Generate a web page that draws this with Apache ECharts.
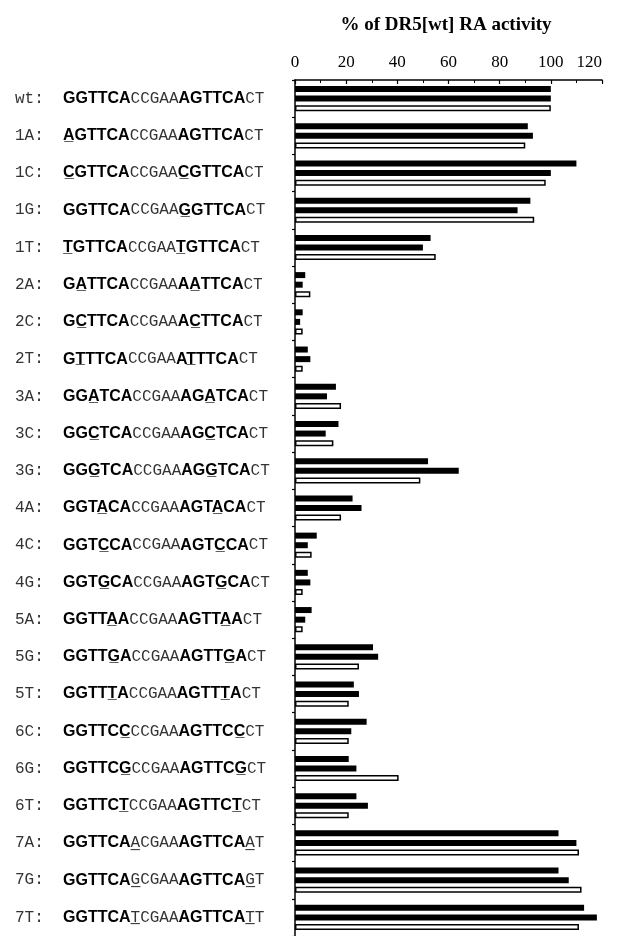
<!DOCTYPE html>
<html>
<head>
<meta charset="utf-8">
<script src="https://cdn.jsdelivr.net/npm/echarts@6/dist/echarts.min.js"></script>
<style>html,body{margin:0;padding:0;background:#fff}#c{width:625px;height:936px}</style>
</head>
<body>
<div id="c"></div>
<script>
const categories = ['wt','1A','1C','1G','1T','2A','2C','2T','3A','3C','3G','4A','4C','4G','5A','5G','5T','6C','6G','6T','7A','7G','7T'];
// '_' marks the underlined (mutated) base; '|' separates half-site / spacer segments
const sequences = [
 'GGTTCA|CCGAA|AGTTCA|CT',
 '_AGTTCA|CCGAA|AGTTCA|CT',
 '_CGTTCA|CCGAA|_CGTTCA|CT',
 'GGTTCA|CCGAA|_GGTTCA|CT',
 '_TGTTCA|CCGAA|_TGTTCA|CT',
 'G_ATTCA|CCGAA|A_ATTCA|CT',
 'G_CTTCA|CCGAA|A_CTTCA|CT',
 'G_TTTCA|CCGAA|A_TTTCA|CT',
 'GG_ATCA|CCGAA|AG_ATCA|CT',
 'GG_CTCA|CCGAA|AG_CTCA|CT',
 'GG_GTCA|CCGAA|AG_GTCA|CT',
 'GGT_ACA|CCGAA|AGT_ACA|CT',
 'GGT_CCA|CCGAA|AGT_CCA|CT',
 'GGT_GCA|CCGAA|AGT_GCA|CT',
 'GGTT_AA|CCGAA|AGTT_AA|CT',
 'GGTT_GA|CCGAA|AGTT_GA|CT',
 'GGTT_TA|CCGAA|AGTT_TA|CT',
 'GGTTC_C|CCGAA|AGTTC_C|CT',
 'GGTTC_G|CCGAA|AGTTC_G|CT',
 'GGTTC_T|CCGAA|AGTTC_T|CT',
 'GGTTCA|_ACGAA|AGTTCA|_AT',
 'GGTTCA|_GCGAA|AGTTCA|_GT',
 'GGTTCA|_TCGAA|AGTTCA|_TT'
];
const series1 = [100,91,110,92,53,4,3,5,16,17,52,22.5,8.5,5,6.5,30.5,23,28,21,24,103,103,113];
const series2 = [100,93,100,87,50,3,2,6,12.5,12,64,26,5,6,4,32.5,25,22,24,28.5,110,107,118];
const series3 = [100,90,98,93.5,55,6,3,3,18,15,49,18,6.5,3,3,25,21,21,40.5,21,111,112,111];
const xTicks = [0,20,40,60,80,100,120];
const titleText = '% of DR5[wt] RA activity';

function seg(str){ return str.replace(/_(.)/g, '$1\u0332'); }
function buildLabel(value, idx){
  const parts = sequences[idx].split('|');
  return '{p|' + value + ':  }' +
    '{b|' + seg(parts[0]) + '}' +
    '{m|' + seg(parts[1]) + '}' +
    '{b|' + seg(parts[2]) + '}' +
    '{m|' + seg(parts[3]) + '}';
}

const chart = echarts.init(document.getElementById('c'), null, {renderer:'canvas'});
const serif = '"Liberation Serif", "DejaVu Serif", serif';
const mono = '"Liberation Mono", "DejaVu Sans Mono", monospace';
chart.setOption({
  animation:false,
  backgroundColor:'#fff',
  title:{
    text:titleText, left:441, top:11, textAlign:'center',
    textStyle:{fontFamily:serif, fontWeight:'bold', fontSize:19, color:'#000'}
  },
  grid:{left:295, top:80, width:307, height:867, containLabel:false},
  xAxis:{
    type:'value', position:'top', min:xTicks[0], max:xTicks[xTicks.length-1], interval:20,
    axisLine:{show:true, lineStyle:{color:'#000', width:1.5}},
    axisTick:{show:true, inside:true, length:4, lineStyle:{color:'#000', width:1.2}},
    minorTick:{show:true, splitNumber:2, length:3, lineStyle:{color:'#000', width:1}},
    splitLine:{show:false},
    axisLabel:{fontFamily:serif, fontSize:17, color:'#000', margin:9, alignMaxLabel:'right'}
  },
  yAxis:{
    type:'category', inverse:true, data:categories,
    axisLine:{show:true, lineStyle:{color:'#000', width:1.5}},
    axisTick:{show:true, length:3, lineStyle:{color:'#000', width:1.2}},
    axisLabel:{
      margin:280, align:'left', formatter:buildLabel,
      rich:{
        p:{fontFamily:mono, fontSize:16, color:'#333'},
        b:{fontFamily:'"Liberation Sans", Arial, sans-serif', fontWeight:'bold', fontSize:16, color:'#000'},
        m:{fontFamily:mono, fontSize:16, color:'#333'}
      }
    }
  },
  series:[
    {type:'bar', data:series1, barWidth:6, barGap:'60%', itemStyle:{color:'#000'}},
    {type:'bar', data:series2, barWidth:6, barGap:'60%', itemStyle:{color:'#000'}},
    {type:'bar', data:series3, barWidth:6, barGap:'60%', itemStyle:{color:'#fff', borderColor:'#000', borderWidth:1.5}}
  ]
});
</script>
</body>
</html>
